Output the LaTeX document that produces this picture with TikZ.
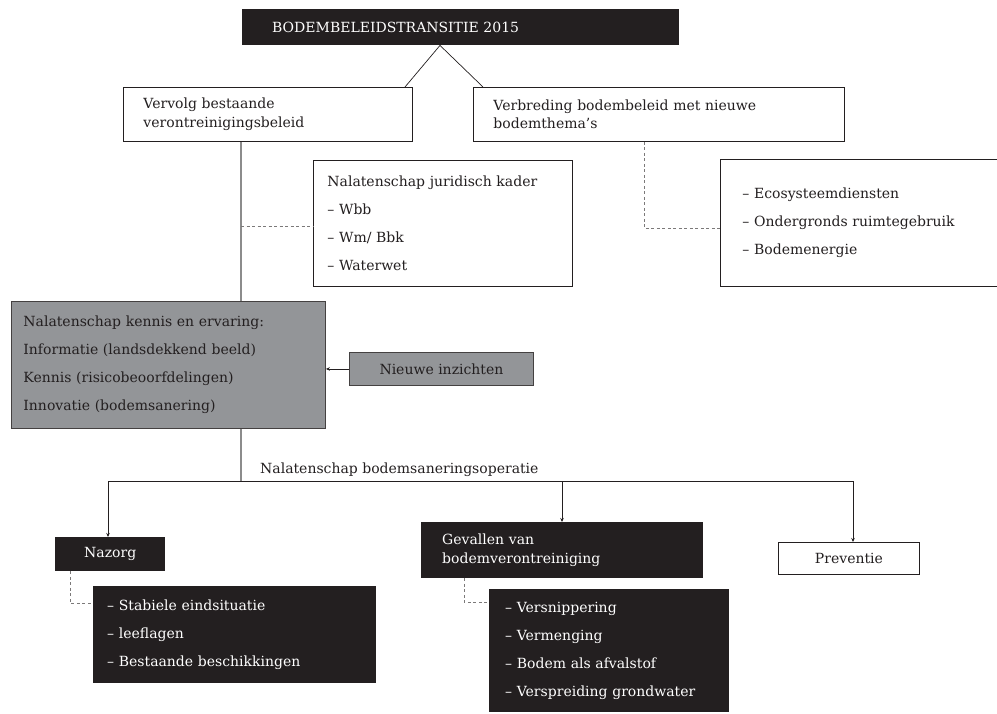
\documentclass[tikz,border=0pt]{standalone}
\usepackage{fontspec}
\setmainfont{DejaVu Serif}
\usetikzlibrary{arrows.meta,calc}
\definecolor{ink}{HTML}{231F20}
\definecolor{midgray}{HTML}{939598}
\definecolor{linegray}{HTML}{8C8C8C}
\begin{document}
\begin{tikzpicture}[x=1pt,y=-1pt,
  every node/.style={font=\fontsize{14}{18.5}\selectfont, inner ysep=0pt, anchor=north west, align=left},
  wbox/.style={draw=ink, line width=0.9pt, fill=white, text=ink},
  bbox/.style={fill=ink, text=white},
  gbox/.style={draw=ink!85, line width=0.9pt, fill=midgray, text=ink},
  conn/.style={draw=ink, line width=0.7pt},
  arr/.style={conn, -{Stealth[length=4pt,width=3.5pt]}},
  gconn/.style={draw=linegray, line width=1.6pt},
  dconn/.style={draw=ink!60, line width=0.8pt, dash pattern=on 3pt off 2.5pt}]
\useasboundingbox (0,0) rectangle (997,713);

\node[bbox, minimum width=437pt, minimum height=36pt, text width=377pt, inner xsep=30pt]
  (top) at (242,9) {BODEMBELEIDSTRANSITIE 2015};

\node[wbox, minimum width=289pt, minimum height=54pt, text width=249pt, inner xsep=20pt]
  (vervolg) at (123,87) {Vervolg bestaande\\verontreinigingsbeleid};
\node[wbox, minimum width=371pt, minimum height=54pt, text width=331pt, inner xsep=20pt]
  (verb) at (473,87) {Verbreding bodembeleid met nieuwe\\bodemthema’s};

\node[wbox, minimum width=259pt, minimum height=126pt, text width=231pt, inner xsep=14pt]
  (jur) at (313,160) {Nalatenschap juridisch kader\\[9.5pt]– Wbb\\[9.5pt]– Wm/ Bbk\\[9.5pt]– Waterwet};
\node[wbox, minimum width=300pt, minimum height=127pt, text width=256pt, inner xsep=22pt]
  (themes) at (720,159) {– Ecosysteemdiensten\\[9.5pt]– Ondergronds ruimtegebruik\\[9.5pt]– Bodemenergie};

\node[gbox, minimum width=314pt, minimum height=127pt, text width=290pt, inner xsep=12pt]
  (gray) at (11,301) {Nalatenschap kennis en ervaring:\\[9.5pt]Informatie (landsdekkend beeld)\\[9.5pt]Kennis (risicobeoorfdelingen)\\[9.5pt]Innovatie (bodemsanering)};
\node[gbox, minimum width=184pt, minimum height=33pt, align=center]
  (nieuwe) at (349,352) {Nieuwe inzichten};

\node[anchor=base west, inner sep=0pt, text=ink] (lbl) at (260,473) {Nalatenschap bodemsaneringsoperatie};

\node[bbox, minimum width=110pt, minimum height=34pt, align=center] (nazorg) at (55,537) {Nazorg};
\node[bbox, minimum width=282pt, minimum height=56pt, text width=240pt, inner xsep=21pt]
  (gev) at (421,522) {Gevallen van\\bodemverontreiniging};
\node[wbox, minimum width=141pt, minimum height=32pt, align=center] (prev) at (778,542) {Preventie};

\node[bbox, minimum width=283pt, minimum height=97pt, text width=255pt, inner xsep=14pt]
  (nlist) at (93,586) {– Stabiele eindsituatie\\[9.5pt]– leeflagen\\[9.5pt]– Bestaande beschikkingen};
\node[bbox, minimum width=240pt, minimum height=123pt, text width=208pt, inner xsep=16pt]
  (glist) at (489,589) {– Versnippering\\[9.5pt]– Vermenging\\[9.5pt]– Bodem als afvalstof\\[9.5pt]– Verspreiding grondwater};

% connectors
\coordinate (apex) at ($(top.south west)+(198,0)$);
\draw[conn] (apex) -- ($(vervolg.north west)+(282,0)$);
\draw[conn] (apex) -- ($(verb.north west)+(10,0)$);
\draw[gconn] ($(vervolg.south west)+(118,0)$) -- ($(gray.north west)+(230,0)$);
\coordinate (jd) at (241,226);
\draw[dconn] (jd) -- (jd -| jur.west);
\draw[dconn] ($(verb.south west)+(171,0)$) |- ($(themes.north west)+(0,69)$);
\draw[arr] (nieuwe.west) -- (nieuwe.west -| gray.east);

\coordinate (hb) at (241,481);
\draw[gconn] ($(gray.south west)+(230,0)$) -- (hb);
\draw[arr] (hb) -| ($(nazorg.north west)+(53,0)$);
\draw[arr] (hb) -| ($(gev.north west)+(141,0)$);
\draw[arr] (hb) -| ($(prev.north west)+(75,0)$);

\draw[dconn] ($(nazorg.south west)+(15,0)$) |- ($(nlist.north west)+(0,17)$);
\draw[dconn] ($(gev.south west)+(43,0)$) |- ($(glist.north west)+(0,13)$);
\end{tikzpicture}
\end{document}
